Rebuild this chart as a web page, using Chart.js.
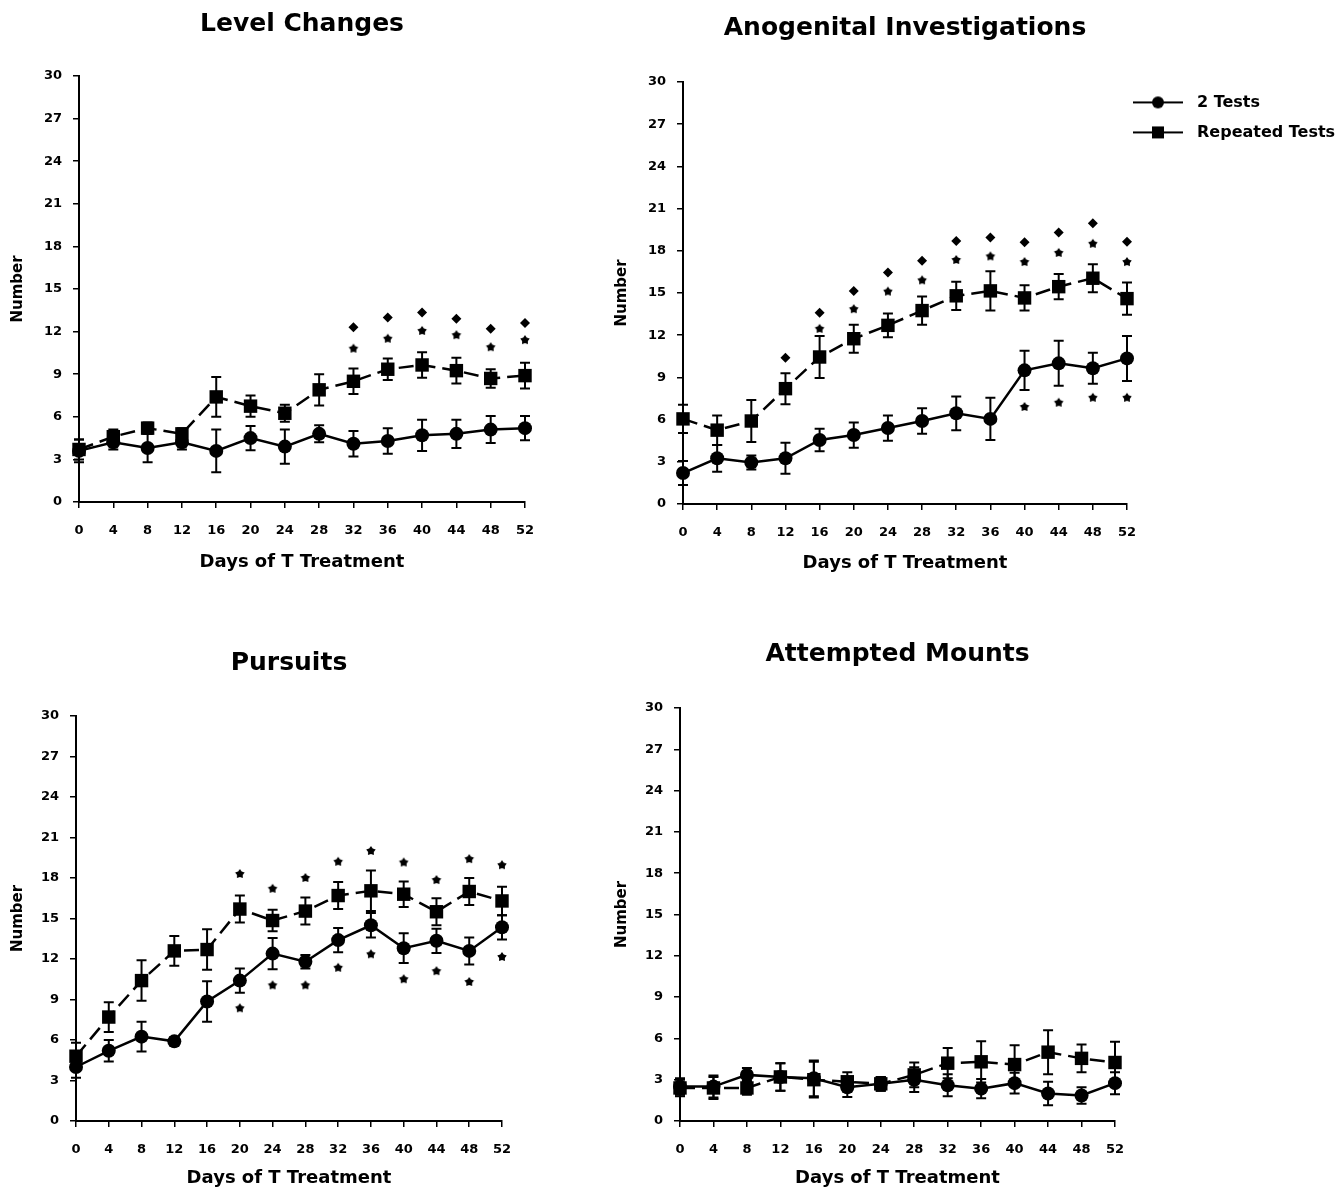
<!DOCTYPE html>
<html>
<head>
<meta charset="utf-8">
<script src="https://cdn.jsdelivr.net/npm/chart.js@4.4.1/dist/chart.umd.min.js"></script>
<style>
  html, body { margin: 0; padding: 0; background: #fff; overflow: hidden; width: 1343px; height: 1190px; }
  canvas { position: absolute; }
</style>
</head>
<body>
<canvas id="c1" width="560" height="577" style="left:0px;top:0px"></canvas>
<canvas id="c2" width="739" height="579" style="left:604px;top:0px"></canvas>
<canvas id="c3" width="540" height="571" style="left:0px;top:620px"></canvas>
<canvas id="c4" width="549" height="571" style="left:601px;top:620px"></canvas>
<script>
// days of treatment (x axis)
const days = [0, 4, 8, 12, 16, 20, 24, 28, 32, 36, 40, 44, 48, 52];
const yTicks = [0, 3, 6, 9, 12, 15, 18, 21, 24, 27, 30];

// Level Changes
const lc2 = [3.6, 4.2, 3.8, 4.2, 3.6, 4.5, 3.9, 4.8, 4.1, 4.3, 4.7, 4.8, 5.1, 5.2];
const lc2Err = [0.8, 0.5, 1.0, 0.5, 1.5, 0.85, 1.2, 0.6, 0.9, 0.9, 1.1, 1.0, 0.95, 0.85];
const lcRep = [3.7, 4.6, 5.2, 4.8, 7.4, 6.75, 6.25, 7.9, 8.5, 9.35, 9.65, 9.25, 8.7, 8.9];
const lcRepErr = [0.7, 0.5, 0.4, 0.4, 1.4, 0.75, 0.6, 1.1, 0.9, 0.75, 0.9, 0.9, 0.65, 0.9];
const lcStarRep = [null, null, null, null, null, null, null, null, 10.8, 11.5, 12.05, 11.75, 10.9, 11.4];
const lcDiamond = [null, null, null, null, null, null, null, null, 12.3, 13.0, 13.35, 12.9, 12.2, 12.6];

// Anogenital Investigations
const ag2 = [2.2, 3.25, 2.95, 3.25, 4.55, 4.9, 5.4, 5.9, 6.45, 6.05, 9.5, 10.0, 9.65, 10.35];
const ag2Err = [0.85, 0.95, 0.5, 1.1, 0.8, 0.9, 0.9, 0.9, 1.2, 1.5, 1.4, 1.6, 1.1, 1.6];
const agRep = [6.05, 5.25, 5.9, 8.2, 10.45, 11.75, 12.7, 13.75, 14.8, 15.15, 14.65, 15.45, 16.05, 14.6];
const agRepErr = [1.0, 1.05, 1.5, 1.1, 1.5, 1.0, 0.85, 1.0, 1.0, 1.4, 0.9, 0.9, 1.0, 1.15];
const agStarRep = [null, null, null, null, 12.45, 13.85, 15.1, 15.9, 17.35, 17.6, 17.2, 17.85, 18.5, 17.2];
const agDiamond = [null, null, null, 10.4, 13.6, 15.15, 16.45, 17.3, 18.7, 18.95, 18.6, 19.3, 19.95, 18.65];
const agStar2 = [null, null, null, null, null, null, null, null, null, null, 6.9, 7.2, 7.55, 7.55];

// Pursuits
const pu2 = [4.0, 5.2, 6.25, 5.9, 8.85, 10.4, 12.4, 11.8, 13.4, 14.5, 12.8, 13.35, 12.6, 14.35];
const pu2Err = [0.8, 0.8, 1.1, 0.3, 1.5, 0.9, 1.15, 0.5, 0.9, 0.9, 1.1, 0.9, 1.0, 0.9];
const puRep = [4.8, 7.7, 10.4, 12.6, 12.7, 15.7, 14.85, 15.55, 16.7, 17.05, 16.8, 15.5, 17.0, 16.3];
const puRepErr = [1.0, 1.1, 1.5, 1.1, 1.5, 1.0, 0.8, 1.0, 1.0, 1.5, 0.95, 1.0, 1.0, 1.05];
const puStarRep = [null, null, null, null, null, 18.3, 17.2, 18.0, 19.2, 20.0, 19.15, 17.85, 19.4, 18.95];
const puStar2 = [null, null, null, null, null, 8.35, 10.05, 10.05, 11.35, 12.35, 10.5, 11.1, 10.3, 12.15];

// Attempted Mounts
const am2 = [2.5, 2.5, 3.35, 3.2, 3.1, 2.45, 2.7, 3.0, 2.6, 2.35, 2.75, 2.0, 1.85, 2.75];
const am2Err = [0.6, 0.8, 0.5, 1.0, 1.3, 0.7, 0.5, 0.9, 0.8, 0.7, 0.75, 0.85, 0.6, 0.8];
const amRep = [2.4, 2.4, 2.4, 3.2, 3.0, 2.85, 2.7, 3.35, 4.2, 4.3, 4.1, 5.0, 4.55, 4.25];
const amRepErr = [0.6, 0.8, 0.5, 1.0, 1.3, 0.7, 0.5, 0.9, 1.1, 1.5, 1.4, 1.6, 1.0, 1.5];

const FONT = "'DejaVu Sans', 'Liberation Sans', sans-serif";

function starIcon(r) {
    const s = Math.ceil(r * 2) + 2;
    const c = document.createElement("canvas");
    c.width = s; c.height = s;
    const g = c.getContext("2d");
    g.fillStyle = "#000";
    g.beginPath();
    for (let k = 0; k < 10; k++) {
        const rr = k % 2 ? r * 0.6 : r;
        const a = -Math.PI / 2 + k * Math.PI / 5;
        g.lineTo(s / 2 + rr * Math.cos(a), s / 2 + rr * Math.sin(a));
    }
    g.closePath();
    g.fill();
    return c;
}

// legend sample: line with marker, left part only (right part transparent)
function legendIcon(style) {
    const c = document.createElement("canvas");
    c.width = 64; c.height = 16;
    const g = c.getContext("2d");
    g.strokeStyle = "#000"; g.fillStyle = "#000"; g.lineWidth = 2;
    g.beginPath(); g.moveTo(0, 8); g.lineTo(50, 8); g.stroke();
    if (style === "circle") {
        g.beginPath(); g.arc(25, 8, 6, 0, Math.PI * 2); g.fill();
    } else {
        g.fillRect(19, 2, 12, 12);
    }
    return c;
}

const STAR = starIcon(5);
const legendIcons = [legendIcon("circle"), legendIcon("rect")];

// vertical SE bars with caps, drawn through the y scale
const errorBars = {
    id: "errorBars",
    beforeDatasetsDraw(chart) {
        const ctx = chart.ctx, y = chart.scales.y;
        chart.data.datasets.forEach((ds, i) => {
            if (!ds.errors) return;
            const meta = chart.getDatasetMeta(i);
            ctx.save();
            ctx.strokeStyle = "#000";
            ctx.lineWidth = 2;
            meta.data.forEach((pt, j) => {
                const v = ds.data[j], e = ds.errors[j];
                if (v == null || !e) return;
                const top = y.getPixelForValue(v + e), bot = y.getPixelForValue(v - e);
                ctx.beginPath();
                ctx.moveTo(pt.x, top); ctx.lineTo(pt.x, bot);
                ctx.moveTo(pt.x - 5, top); ctx.lineTo(pt.x + 5, top);
                ctx.moveTo(pt.x - 5, bot); ctx.lineTo(pt.x + 5, bot);
                ctx.stroke();
            });
            ctx.restore();
        });
    }
};

function markSet(values, style) {
    return {
        label: "",
        data: values,
        showLine: false,
        pointStyle: style === "diamond" ? "rectRot" : STAR,
        pointRadius: 5,
        pointBackgroundColor: "#000",
        pointBorderWidth: 0,
        borderColor: "#000",
        clip: false
    };
}

function createPanel(id, cfg) {
    const datasets = [
        {
            label: "2 Tests",
            data: cfg.s2,
            errors: cfg.e2,
            borderColor: "#000",
            borderWidth: 2.5,
            pointStyle: "circle",
            pointRadius: 7,
            pointBackgroundColor: "#000",
            pointBorderWidth: 0,
            tension: 0,
            clip: false
        },
        {
            label: "Repeated Tests",
            data: cfg.sRep,
            errors: cfg.eRep,
            borderColor: "#000",
            borderWidth: 2.5,
            borderDash: [15, 7],
            pointStyle: "rect",
            pointRadius: 9.5,
            pointBackgroundColor: "#000",
            pointBorderWidth: 0,
            tension: 0,
            clip: false
        }
    ];
    cfg.marks.forEach(m => datasets.push(markSet(m[0], m[1])));

    const axisGrid = { display: true, drawOnChartArea: false, drawTicks: true, tickLength: 6, color: "#000", lineWidth: 1.5 };
    const tickFont = { family: FONT, size: 13, weight: "bold" };

    return new Chart(document.getElementById(id), {
        type: "line",
        data: { labels: days, datasets: datasets },
        options: {
            responsive: false,
            animation: false,
            events: [],
            layout: { padding: { left: 0, right: cfg.padRight, top: 0, bottom: 0 } },
            scales: {
                x: {
                    type: "category",
                    offset: false,
                    grid: axisGrid,
                    border: { display: true, color: "#000", width: 2 },
                    ticks: { autoSkip: false, maxRotation: 0, color: "#000", font: tickFont, padding: 15 },
                    title: { display: true, text: "Days of T Treatment", color: "#000",
                             font: { family: FONT, size: 18, weight: "bold" },
                             padding: { top: 0, bottom: cfg.xTitlePad } },
                    afterFit: s => { s.height = cfg.xHeight; }
                },
                y: {
                    type: "linear",
                    min: 0,
                    max: 30,
                    grid: axisGrid,
                    border: { display: true, color: "#000", width: 2 },
                    afterBuildTicks: s => { s.ticks = yTicks.map(v => ({ value: v })); },
                    ticks: { color: "#000", font: tickFont, padding: 11 },
                    title: { display: true, text: "Number", color: "#000",
                             font: { family: FONT, size: 15, weight: "bold" },
                             padding: { top: cfg.yTitlePad, bottom: 0 } },
                    afterFit: s => { s.width = cfg.yWidth; }
                }
            },
            plugins: {
                tooltip: { enabled: false },
                title: {
                    display: true,
                    text: cfg.title,
                    color: "#000",
                    fullSize: false,
                    font: { family: FONT, size: 25, weight: "bold" },
                    padding: { top: cfg.titlePad[0], bottom: cfg.titlePad[1] }
                },
                legend: {
                    display: !!cfg.legend,
                    position: "right",
                    align: "start",
                    title: { display: true, text: "", padding: { top: 66, bottom: 0 } },
                    labels: {
                        usePointStyle: true,
                        pointStyleWidth: 48,
                        color: "#000",
                        padding: 14,
                        font: { family: FONT, size: 16, weight: "bold" },
                        generateLabels: chart => [0, 1].map(i => ({
                            text: chart.data.datasets[i].label,
                            pointStyle: legendIcons[i],
                            fillStyle: "#000",
                            strokeStyle: "#000",
                            lineWidth: 0,
                            hidden: false,
                            fontColor: "#000",
                            datasetIndex: i
                        }))
                    }
                }
            }
        },
        plugins: [errorBars]
    });
}

createPanel("c1", {
    title: "Level Changes", s2: lc2, e2: lc2Err, sRep: lcRep, eRep: lcRepErr,
    marks: [[lcStarRep, "star"], [lcDiamond, "diamond"]],
    yWidth: 79, titlePad: [9, 37], yTitlePad: 9, xHeight: 75, xTitlePad: 4, padRight: 35
});
const anoChart = createPanel("c2", {
    title: "Anogenital Investigations", s2: ag2, e2: ag2Err, sRep: agRep, eRep: agRepErr,
    marks: [[agStarRep, "star"], [agDiamond, "diamond"], [agStar2, "star"]],
    yWidth: 79, titlePad: [13, 39], yTitlePad: 9, xHeight: 75, xTitlePad: 5, padRight: 0, legend: true
});
// give the right-hand legend a fixed width so the plot ends where the original does
const legendBox = anoChart.legend;
const baseFit = legendBox.fit.bind(legendBox);
legendBox.fit = function () { baseFit(); this.width = 216; };
anoChart.update();

createPanel("c3", {
    title: "Pursuits", s2: pu2, e2: pu2Err, sRep: puRep, eRep: puRepErr,
    marks: [[puStarRep, "star"], [puStar2, "star"]],
    yWidth: 76, titlePad: [28, 38], yTitlePad: 9, xHeight: 70, xTitlePad: 2, padRight: 38
});
createPanel("c4", {
    title: "Attempted Mounts", s2: am2, e2: am2Err, sRep: amRep, eRep: amRepErr,
    marks: [],
    yWidth: 79, titlePad: [19, 39], yTitlePad: 12, xHeight: 70, xTitlePad: 2, padRight: 35
});
</script>
</body>
</html>
